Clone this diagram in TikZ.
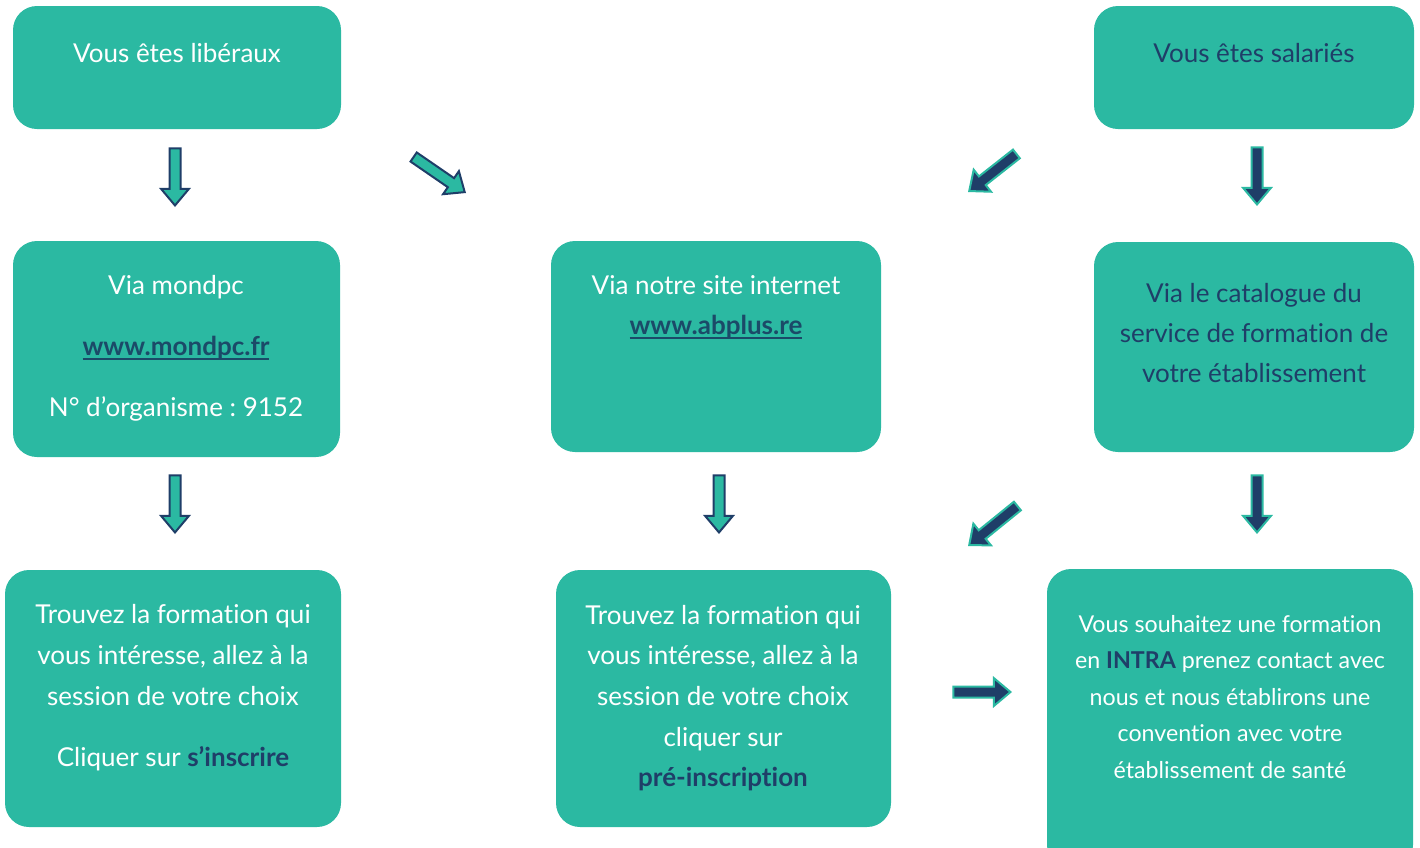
\documentclass[tikz,border=0pt]{standalone}
\usepackage{fontspec}
\setmainfont[Ligatures=NoCommon]{Lato}
\usetikzlibrary{shapes.arrows}
\definecolor{tealone}{HTML}{2BB9A2}
\definecolor{navy}{HTML}{1F3E68}
\definecolor{linkc}{HTML}{1B4A68}
\newsavebox\linkbox
\newcommand\linkt[1]{{\color{linkc}\bfseries\sbox\linkbox{#1}\rlap{\raisebox{-4.5pt}{\rule{\wd\linkbox}{1.8pt}}}\usebox\linkbox}}
\frenchspacing
\begin{document}
\begin{tikzpicture}[x=1pt,y=-1pt,
  box/.style={fill=tealone, draw=none, rounded corners=24pt, inner sep=0},
  big/.style={anchor=base, inner sep=0, font=\fontsize{26}{30}\selectfont, text=white},
  small/.style={anchor=base, inner sep=0, font=\fontsize{23.2}{27}\selectfont, text=white},
  navytext/.style={text=navy},
  tarrow/.style={single arrow, draw=navy, fill=tealone, line width=2pt, inner xsep=0pt, inner ysep=4.5pt,
     single arrow head extend=8.5pt, single arrow tip angle=80, minimum height=57, anchor=tip},
  narrow/.style={tarrow, draw=tealone, fill=navy}
]
\useasboundingbox (0,0) rectangle (1420,847);
\clip (0,0) rectangle (1420,847);

% boxes
\node[box, minimum width=328, minimum height=123] (b1) at (177,67.5) {};
\node[box, minimum width=320, minimum height=123] (b2) at (1254,67.5) {};
\node[box, minimum width=327, minimum height=216] (b3) at (176.5,349) {};
\node[box, minimum width=330, minimum height=211] (b4) at (716,346.5) {};
\node[box, minimum width=320, minimum height=210] (b5) at (1254,347) {};
\node[box, minimum width=336, minimum height=257] (b6) at (173,698.5) {};
\node[box, minimum width=335, minimum height=257] (b7) at (723.5,698.5) {};
\node[box, minimum width=366, minimum height=300] (b8) at (1230,719) {};

% texts
\node[big] (t1) at (177,62) {Vous êtes libéraux};
\node[big, navytext] (t2) at (1254,62) {Vous êtes salariés};

\node[big] (t3a) at (176,294) {Via mondpc};
\node[big] (t3b) at (176,355) {\linkt{www.mondpc.fr}};
\node[big] (t3c) at (176,416) {N° d’organisme : 9152};

\node[big] (t4a) at (716,294) {Via notre site internet};
\node[big] (t4b) at (716,334) {\linkt{www.abplus.re}};

\node[big, navytext] (t5a) at (1254,302) {Via le catalogue du};
\node[big, navytext] (t5b) at (1254,342) {service de formation de};
\node[big, navytext] (t5c) at (1254,382) {votre établissement};

\node[big] (t6a) at (173,623) {Trouvez la formation qui};
\node[big] (t6b) at (173,664) {vous intéresse, allez à la};
\node[big] (t6c) at (173,705) {session de votre choix};
\node[big] (t6d) at (173,766) {Cliquer sur {\bfseries\color{navy}s’inscrire}};

\node[big] (t7a) at (723,624) {Trouvez la formation qui};
\node[big] (t7b) at (723,664) {vous intéresse, allez à la};
\node[big] (t7c) at (723,705) {session de votre choix};
\node[big] (t7d) at (723,746) {cliquer sur};
\node[big] (t7e) at (723,786) {\bfseries\color{navy}pré-inscription};

\node[small] (t8a) at (1230,632) {Vous souhaitez une formation};
\node[small] (t8b) at (1230,668) {en {\bfseries\color{navy}INTRA} prenez contact avec};
\node[small] (t8c) at (1230,705) {nous et nous établirons une};
\node[small] (t8d) at (1230,741) {convention avec votre};
\node[small] (t8e) at (1230,778) {établissement de santé};

% arrows
\node[tarrow, rotate=-90] (a1) at (175,207) {};
\node[tarrow, rotate=-34.5, minimum height=62] (a2) at (466,193) {};
\node[narrow, rotate=-141.8, minimum height=60] (a3) at (968,192) {};
\node[narrow, rotate=-90] (a4) at (1257,206) {};
\node[tarrow, rotate=-90] (a5) at (175,534) {};
\node[tarrow, rotate=-90] (a6) at (719,534) {};
\node[narrow, rotate=-141, minimum height=62] (a7) at (968,546) {};
\node[narrow, rotate=-90] (a8) at (1257,534) {};
\node[narrow] (a9) at (1012,692) {};
\end{tikzpicture}
\end{document}
